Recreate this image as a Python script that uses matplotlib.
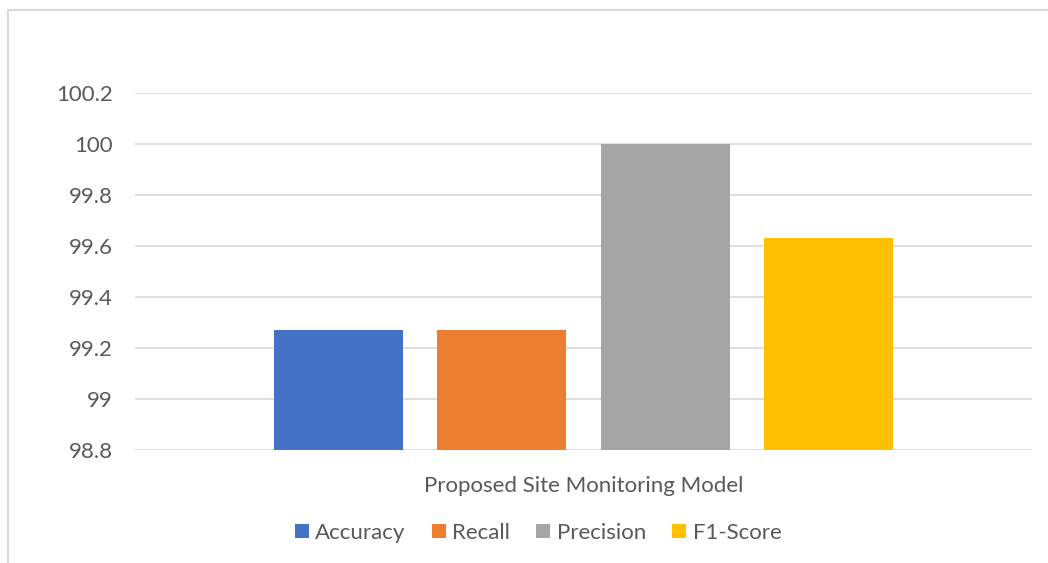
import matplotlib.pyplot as plt
from matplotlib.patches import Rectangle

plt.rcParams['font.family'] = ['Lato', 'DejaVu Sans']

category = 'Proposed Site Monitoring Model'
metrics = ['Accuracy', 'Recall', 'Precision', 'F1-Score']
scores = [99.27, 99.27, 100.0, 99.63]
colors = ['#4472C4', '#ED7D31', '#A5A5A5', '#FFC000']
yticks = [98.8, 99.0, 99.2, 99.4, 99.6, 99.8, 100.0, 100.2]
ytick_labels = ['98.8', '99', '99.2', '99.4', '99.6', '99.8', '100', '100.2']

fig = plt.figure(figsize=(10.48, 5.63), dpi=100)
W, H = 1048, 563
ax = fig.add_axes([135 / W, 1 - 450 / H, 897 / W, 357 / H])

# outer chart frame (only top and left edges fall inside the image)
fig.patches.append(Rectangle((8 / W, -0.05), 1.2, 1 - 10 / H + 0.05,
                             transform=fig.transFigure, fill=False,
                             edgecolor='#D9D9D9', linewidth=1.5))

step = 0.182
width = 0.144
for i, (m, v, c) in enumerate(zip(metrics, scores, colors)):
    ax.bar((i - 1.5) * step, v - 98.8, bottom=98.8, width=width,
           color=c, label=m, zorder=3)

ax.set_xlim(-0.5, 0.5)
ax.set_ylim(98.8, 100.2)
ax.set_yticks(yticks)
ax.set_yticklabels(ytick_labels)
ax.set_xticks([0])
ax.set_xticklabels([category])
ax.tick_params(axis='both', length=0, labelsize=16, colors='#595959')
ax.tick_params(axis='y', pad=16)
ax.tick_params(axis='x', pad=19)
ax.grid(axis='y', color='#D9D9D9', linewidth=1.2, zorder=0)
for s in ax.spines.values():
    s.set_visible(False)

fig.legend(loc='center', bbox_to_anchor=(538 / W, 1 - 533 / H), ncol=4,
           frameon=False, fontsize=16, handlelength=0.63, handleheight=0.63,
           handletextpad=0.3, columnspacing=1.17, labelcolor='#595959')

fig.savefig('out.png', dpi=100)
